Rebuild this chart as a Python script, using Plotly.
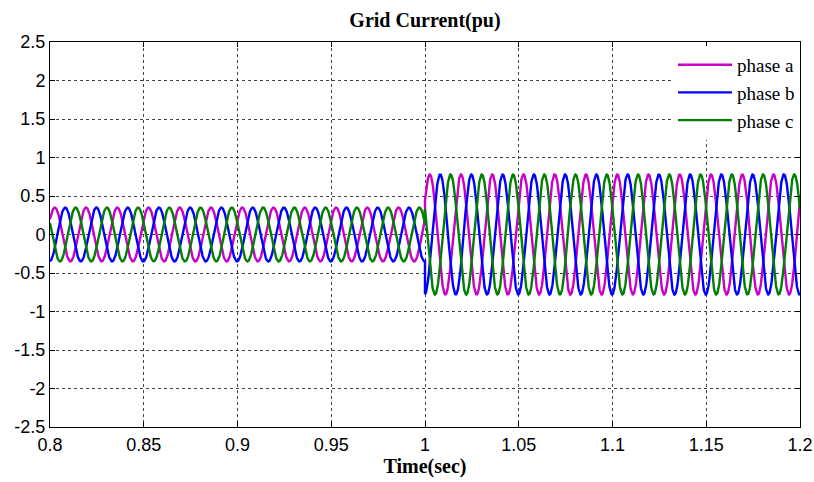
import numpy as np
import plotly.graph_objects as go

# ---- data ----
freq_hz = 60                       # ~31 px per cycle -> 60 Hz
segment_start = [0.8, 1.0]         # seconds
segment_end = [1.0, 1.2]
segment_amplitude = [0.35, 0.78]   # pu peak before / after the step
phase_names = ["phase a", "phase b", "phase c"]
phase_shift_deg = [0, -120, 120]
phase_a_at_start_deg = 35          # phase of phase a at t = 0.8 s

x_tick_vals = [0.8, 0.85, 0.9, 0.95, 1.0, 1.05, 1.1, 1.15, 1.2]
x_tick_text = ["0.8", "0.85", "0.9", "0.95", "1", "1.05", "1.1", "1.15", "1.2"]
y_tick_vals = [2.5, 2, 1.5, 1, 0.5, 0, -0.5, -1, -1.5, -2, -2.5]
y_tick_text = ["2.5", "2", "1.5", "1", "0.5", "0", "-0.5", "-1", "-1.5", "-2", "-2.5"]

colors = ["#c800c8", "#0000ff", "#008000"]

# build time base and waveforms
t_parts, amp_parts = [], []
for s, e, a in zip(segment_start, segment_end, segment_amplitude):
    tt = np.linspace(s, e, 1200)
    t_parts.append(tt)
    amp_parts.append(np.full_like(tt, a))
t = np.concatenate(t_parts)
amp = np.concatenate(amp_parts)

fig = go.Figure()
for name, shift, col in zip(phase_names, phase_shift_deg, colors):
    ph = np.deg2rad(phase_a_at_start_deg + shift)
    y = amp * np.sin(2 * np.pi * freq_hz * (t - segment_start[0]) + ph)
    fig.add_trace(go.Scatter(x=t, y=y, mode="lines", name=name,
                             line=dict(color=col, width=2.4)))

axis_common = dict(showline=True, linecolor="black", linewidth=1, mirror="ticks",
                   ticks="inside", ticklen=5, tickcolor="black",
                   showgrid=True, gridcolor="#444444", griddash="dot", gridwidth=1,
                   zeroline=False, automargin=False,
                   tickfont=dict(family="Liberation Sans", size=18, color="black"))

fig.update_layout(
    width=814, height=482,
    margin=dict(l=50, r=14, t=42, b=55),
    paper_bgcolor="white", plot_bgcolor="white",
    title=dict(text="<b>Grid Current(pu)</b>", x=0.5, xref="paper",
               y=1 - 20 / 482, yanchor="middle",
               font=dict(family="Liberation Serif", size=20, color="black")),
    xaxis=dict(range=[0.8, 1.2], tickmode="array", tickvals=x_tick_vals,
               ticktext=x_tick_text, ticklabelstandoff=1,
               title=dict(text="<b>Time(sec)</b>", standoff=2,
                          font=dict(family="Liberation Serif", size=20, color="black")),
               **axis_common),
    yaxis=dict(range=[-2.5, 2.5], tickmode="array", tickvals=y_tick_vals,
               ticktext=y_tick_text, **axis_common),
    legend=dict(x=1, y=0.99, xanchor="right", yanchor="top", bgcolor="white",
                borderwidth=0, font=dict(family="Liberation Serif", size=19, color="black"),
                itemwidth=54),
    showlegend=True,
)

fig.write_html("out.html", config={"displayModeBar": False},
               post_script="document.body.style.margin='0';document.body.style.padding='0';")
